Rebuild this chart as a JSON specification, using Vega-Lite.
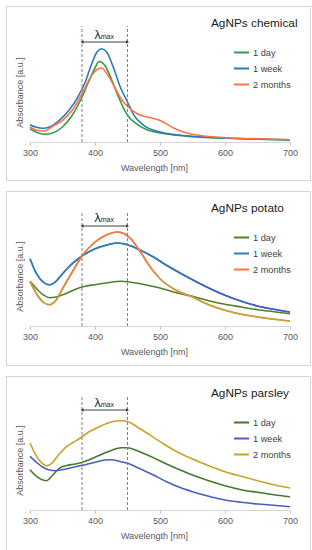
{
  "$schema": "https://vega.github.io/schema/vega-lite/v6.json",
  "padding": {"left": 5, "top": 5, "right": 3, "bottom": 5},
  "background": "white",
  "config": {
    "font": "Liberation Sans",
    "view": {"stroke": "#d4d4d4", "strokeWidth": 1},
    "concat": {"spacing": 9},
    "title": {"fontSize": 11.8, "fontWeight": "normal", "color": "#1a1a1a", "anchor": "start", "dx": 205, "offset": -24},
    "legend": {"orient": "none", "legendX": 227, "legendY": 38, "symbolType": "stroke", "symbolSize": 225, "symbolStrokeWidth": 2, "labelFontSize": 9.2, "labelColor": "#404040", "labelOffset": 3, "rowPadding": 2, "padding": 0}
  },
  "datasets": {
    "lambda": [{"from": 380, "to": 450, "mid": 415, "sym": "λ", "sub": "max"}],
    "chemical": [
      {"series": "1 day", "nm": 300, "abs": 0.133}, {"series": "1 day", "nm": 310, "abs": 0.097}, {"series": "1 day", "nm": 322, "abs": 0.077}, {"series": "1 day", "nm": 335, "abs": 0.09}, {"series": "1 day", "nm": 350, "abs": 0.15}, {"series": "1 day", "nm": 365, "abs": 0.267}, {"series": "1 day", "nm": 380, "abs": 0.45}, {"series": "1 day", "nm": 390, "abs": 0.6}, {"series": "1 day", "nm": 400, "abs": 0.74}, {"series": "1 day", "nm": 406, "abs": 0.805}, {"series": "1 day", "nm": 415, "abs": 0.767}, {"series": "1 day", "nm": 425, "abs": 0.633}, {"series": "1 day", "nm": 435, "abs": 0.467}, {"series": "1 day", "nm": 450, "abs": 0.267}, {"series": "1 day", "nm": 465, "abs": 0.177}, {"series": "1 day", "nm": 480, "abs": 0.123}, {"series": "1 day", "nm": 500, "abs": 0.09}, {"series": "1 day", "nm": 525, "abs": 0.067}, {"series": "1 day", "nm": 550, "abs": 0.053}, {"series": "1 day", "nm": 600, "abs": 0.037}, {"series": "1 day", "nm": 650, "abs": 0.027}, {"series": "1 day", "nm": 700, "abs": 0.017},
      {"series": "1 week", "nm": 300, "abs": 0.173}, {"series": "1 week", "nm": 310, "abs": 0.147}, {"series": "1 week", "nm": 320, "abs": 0.137}, {"series": "1 week", "nm": 330, "abs": 0.15}, {"series": "1 week", "nm": 345, "abs": 0.217}, {"series": "1 week", "nm": 360, "abs": 0.317}, {"series": "1 week", "nm": 375, "abs": 0.467}, {"series": "1 week", "nm": 385, "abs": 0.6}, {"series": "1 week", "nm": 395, "abs": 0.783}, {"series": "1 week", "nm": 403, "abs": 0.9}, {"series": "1 week", "nm": 410, "abs": 0.933}, {"series": "1 week", "nm": 418, "abs": 0.9}, {"series": "1 week", "nm": 428, "abs": 0.75}, {"series": "1 week", "nm": 440, "abs": 0.533}, {"series": "1 week", "nm": 450, "abs": 0.4}, {"series": "1 week", "nm": 460, "abs": 0.267}, {"series": "1 week", "nm": 475, "abs": 0.167}, {"series": "1 week", "nm": 500, "abs": 0.1}, {"series": "1 week", "nm": 525, "abs": 0.073}, {"series": "1 week", "nm": 550, "abs": 0.057}, {"series": "1 week", "nm": 600, "abs": 0.04}, {"series": "1 week", "nm": 650, "abs": 0.03}, {"series": "1 week", "nm": 700, "abs": 0.023},
      {"series": "2 months", "nm": 300, "abs": 0.15}, {"series": "2 months", "nm": 310, "abs": 0.117}, {"series": "2 months", "nm": 322, "abs": 0.11}, {"series": "2 months", "nm": 335, "abs": 0.157}, {"series": "2 months", "nm": 350, "abs": 0.217}, {"series": "2 months", "nm": 365, "abs": 0.317}, {"series": "2 months", "nm": 380, "abs": 0.483}, {"series": "2 months", "nm": 395, "abs": 0.667}, {"series": "2 months", "nm": 405, "abs": 0.733}, {"series": "2 months", "nm": 410, "abs": 0.74}, {"series": "2 months", "nm": 420, "abs": 0.667}, {"series": "2 months", "nm": 430, "abs": 0.55}, {"series": "2 months", "nm": 440, "abs": 0.433}, {"series": "2 months", "nm": 450, "abs": 0.357}, {"series": "2 months", "nm": 465, "abs": 0.283}, {"series": "2 months", "nm": 480, "abs": 0.25}, {"series": "2 months", "nm": 495, "abs": 0.227}, {"series": "2 months", "nm": 505, "abs": 0.2}, {"series": "2 months", "nm": 520, "abs": 0.143}, {"series": "2 months", "nm": 540, "abs": 0.093}, {"series": "2 months", "nm": 560, "abs": 0.067}, {"series": "2 months", "nm": 600, "abs": 0.043}, {"series": "2 months", "nm": 650, "abs": 0.033}, {"series": "2 months", "nm": 700, "abs": 0.023}
    ],
    "potato": [
      {"series": "1 day", "nm": 300, "abs": 0.447}, {"series": "1 day", "nm": 310, "abs": 0.373}, {"series": "1 day", "nm": 320, "abs": 0.313}, {"series": "1 day", "nm": 330, "abs": 0.283}, {"series": "1 day", "nm": 340, "abs": 0.29}, {"series": "1 day", "nm": 355, "abs": 0.323}, {"series": "1 day", "nm": 370, "abs": 0.367}, {"series": "1 day", "nm": 385, "abs": 0.397}, {"series": "1 day", "nm": 400, "abs": 0.413}, {"series": "1 day", "nm": 420, "abs": 0.433}, {"series": "1 day", "nm": 440, "abs": 0.447}, {"series": "1 day", "nm": 450, "abs": 0.443}, {"series": "1 day", "nm": 470, "abs": 0.423}, {"series": "1 day", "nm": 500, "abs": 0.38}, {"series": "1 day", "nm": 525, "abs": 0.333}, {"series": "1 day", "nm": 550, "abs": 0.297}, {"series": "1 day", "nm": 575, "abs": 0.253}, {"series": "1 day", "nm": 600, "abs": 0.217}, {"series": "1 day", "nm": 625, "abs": 0.19}, {"series": "1 day", "nm": 650, "abs": 0.163}, {"series": "1 day", "nm": 675, "abs": 0.143}, {"series": "1 day", "nm": 700, "abs": 0.123},
      {"series": "1 week", "nm": 300, "abs": 0.673}, {"series": "1 week", "nm": 310, "abs": 0.523}, {"series": "1 week", "nm": 320, "abs": 0.44}, {"series": "1 week", "nm": 330, "abs": 0.413}, {"series": "1 week", "nm": 340, "abs": 0.447}, {"series": "1 week", "nm": 350, "abs": 0.523}, {"series": "1 week", "nm": 365, "abs": 0.623}, {"series": "1 week", "nm": 380, "abs": 0.7}, {"series": "1 week", "nm": 400, "abs": 0.773}, {"series": "1 week", "nm": 420, "abs": 0.813}, {"series": "1 week", "nm": 435, "abs": 0.83}, {"series": "1 week", "nm": 450, "abs": 0.813}, {"series": "1 week", "nm": 470, "abs": 0.757}, {"series": "1 week", "nm": 490, "abs": 0.69}, {"series": "1 week", "nm": 510, "abs": 0.607}, {"series": "1 week", "nm": 530, "abs": 0.533}, {"series": "1 week", "nm": 550, "abs": 0.463}, {"series": "1 week", "nm": 575, "abs": 0.38}, {"series": "1 week", "nm": 600, "abs": 0.307}, {"series": "1 week", "nm": 625, "abs": 0.247}, {"series": "1 week", "nm": 650, "abs": 0.2}, {"series": "1 week", "nm": 675, "abs": 0.167}, {"series": "1 week", "nm": 700, "abs": 0.14},
      {"series": "2 months", "nm": 300, "abs": 0.447}, {"series": "2 months", "nm": 310, "abs": 0.323}, {"series": "2 months", "nm": 320, "abs": 0.24}, {"series": "2 months", "nm": 330, "abs": 0.213}, {"series": "2 months", "nm": 340, "abs": 0.257}, {"series": "2 months", "nm": 350, "abs": 0.373}, {"series": "2 months", "nm": 365, "abs": 0.54}, {"series": "2 months", "nm": 380, "abs": 0.7}, {"series": "2 months", "nm": 400, "abs": 0.84}, {"series": "2 months", "nm": 420, "abs": 0.917}, {"series": "2 months", "nm": 435, "abs": 0.94}, {"series": "2 months", "nm": 445, "abs": 0.923}, {"series": "2 months", "nm": 455, "abs": 0.873}, {"series": "2 months", "nm": 470, "abs": 0.74}, {"series": "2 months", "nm": 485, "abs": 0.59}, {"series": "2 months", "nm": 500, "abs": 0.473}, {"series": "2 months", "nm": 525, "abs": 0.357}, {"series": "2 months", "nm": 550, "abs": 0.29}, {"series": "2 months", "nm": 575, "abs": 0.213}, {"series": "2 months", "nm": 600, "abs": 0.157}, {"series": "2 months", "nm": 625, "abs": 0.117}, {"series": "2 months", "nm": 650, "abs": 0.09}, {"series": "2 months", "nm": 675, "abs": 0.067}, {"series": "2 months", "nm": 700, "abs": 0.05}
    ],
    "parsley": [
      {"series": "1 day", "nm": 300, "abs": 0.403}, {"series": "1 day", "nm": 310, "abs": 0.337}, {"series": "1 day", "nm": 320, "abs": 0.3}, {"series": "1 day", "nm": 325, "abs": 0.293}, {"series": "1 day", "nm": 335, "abs": 0.35}, {"series": "1 day", "nm": 345, "abs": 0.417}, {"series": "1 day", "nm": 355, "abs": 0.443}, {"series": "1 day", "nm": 370, "abs": 0.46}, {"series": "1 day", "nm": 385, "abs": 0.487}, {"series": "1 day", "nm": 400, "abs": 0.527}, {"series": "1 day", "nm": 420, "abs": 0.583}, {"series": "1 day", "nm": 440, "abs": 0.623}, {"series": "1 day", "nm": 450, "abs": 0.623}, {"series": "1 day", "nm": 465, "abs": 0.593}, {"series": "1 day", "nm": 485, "abs": 0.537}, {"series": "1 day", "nm": 510, "abs": 0.46}, {"series": "1 day", "nm": 530, "abs": 0.403}, {"series": "1 day", "nm": 550, "abs": 0.35}, {"series": "1 day", "nm": 575, "abs": 0.293}, {"series": "1 day", "nm": 600, "abs": 0.243}, {"series": "1 day", "nm": 625, "abs": 0.203}, {"series": "1 day", "nm": 650, "abs": 0.177}, {"series": "1 day", "nm": 675, "abs": 0.153}, {"series": "1 day", "nm": 700, "abs": 0.133},
      {"series": "1 week", "nm": 300, "abs": 0.537}, {"series": "1 week", "nm": 310, "abs": 0.477}, {"series": "1 week", "nm": 320, "abs": 0.427}, {"series": "1 week", "nm": 330, "abs": 0.4}, {"series": "1 week", "nm": 340, "abs": 0.393}, {"series": "1 week", "nm": 355, "abs": 0.41}, {"series": "1 week", "nm": 370, "abs": 0.433}, {"series": "1 week", "nm": 385, "abs": 0.453}, {"series": "1 week", "nm": 400, "abs": 0.477}, {"series": "1 week", "nm": 415, "abs": 0.5}, {"series": "1 week", "nm": 425, "abs": 0.503}, {"series": "1 week", "nm": 440, "abs": 0.483}, {"series": "1 week", "nm": 450, "abs": 0.467}, {"series": "1 week", "nm": 470, "abs": 0.41}, {"series": "1 week", "nm": 490, "abs": 0.35}, {"series": "1 week", "nm": 510, "abs": 0.283}, {"series": "1 week", "nm": 530, "abs": 0.227}, {"series": "1 week", "nm": 550, "abs": 0.183}, {"series": "1 week", "nm": 575, "abs": 0.137}, {"series": "1 week", "nm": 600, "abs": 0.1}, {"series": "1 week", "nm": 625, "abs": 0.077}, {"series": "1 week", "nm": 650, "abs": 0.06}, {"series": "1 week", "nm": 675, "abs": 0.047}, {"series": "1 week", "nm": 700, "abs": 0.033},
      {"series": "2 months", "nm": 300, "abs": 0.67}, {"series": "2 months", "nm": 310, "abs": 0.537}, {"series": "2 months", "nm": 320, "abs": 0.46}, {"series": "2 months", "nm": 325, "abs": 0.443}, {"series": "2 months", "nm": 335, "abs": 0.477}, {"series": "2 months", "nm": 345, "abs": 0.56}, {"series": "2 months", "nm": 355, "abs": 0.627}, {"series": "2 months", "nm": 365, "abs": 0.67}, {"series": "2 months", "nm": 375, "abs": 0.71}, {"series": "2 months", "nm": 390, "abs": 0.777}, {"series": "2 months", "nm": 405, "abs": 0.827}, {"series": "2 months", "nm": 420, "abs": 0.87}, {"series": "2 months", "nm": 435, "abs": 0.893}, {"series": "2 months", "nm": 445, "abs": 0.893}, {"series": "2 months", "nm": 455, "abs": 0.87}, {"series": "2 months", "nm": 470, "abs": 0.81}, {"series": "2 months", "nm": 490, "abs": 0.727}, {"series": "2 months", "nm": 510, "abs": 0.643}, {"series": "2 months", "nm": 530, "abs": 0.57}, {"series": "2 months", "nm": 550, "abs": 0.51}, {"series": "2 months", "nm": 575, "abs": 0.443}, {"series": "2 months", "nm": 600, "abs": 0.383}, {"series": "2 months", "nm": 625, "abs": 0.337}, {"series": "2 months", "nm": 650, "abs": 0.293}, {"series": "2 months", "nm": 675, "abs": 0.253}, {"series": "2 months", "nm": 700, "abs": 0.22}
    ]
  },
  "resolve": {"scale": {"x": "independent", "y": "independent", "color": "independent"}, "legend": {"color": "independent"}},
  "vconcat": [
    {
      "width": 304, "height": 174,
      "title": {"text": "AgNPs chemical"},
      "layer": [
        {"data": {"name": "chemical"}, "mark": {"type": "line", "interpolate": "monotone", "strokeWidth": 1.6},
         "encoding": {
           "x": {"field": "nm", "type": "quantitative", "scale": {"domain": [300, 700], "range": [24, 284], "nice": false, "zero": false},
                 "axis": {"values": [300, 350, 400, 450, 500, 550, 600, 650, 700], "offset": -38, "grid": false, "domainColor": "#d4d4d4", "tickColor": "#bfbfbf", "tickSize": 3, "labelFontSize": 9, "labelColor": "#595959", "labelPadding": 3, "labelFlush": false, "title": "Wavelength [nm]", "titleFontSize": 9, "titleFontWeight": "normal", "titleColor": "#595959", "titlePadding": 6, "titleX": 148}},
           "y": {"field": "abs", "type": "quantitative", "scale": {"domain": [0, 1], "range": [136, 36], "nice": false, "zero": false},
                 "axis": {"offset": -24, "domain": false, "ticks": false, "labels": false, "grid": false, "title": "Absorbance [a.u.]", "titleFontSize": 9, "titleFontWeight": "normal", "titleColor": "#595959", "titlePadding": 6}},
           "color": {"field": "series", "type": "nominal", "scale": {"domain": ["1 day", "1 week", "2 months"], "range": ["#35984a", "#2a7ab9", "#fa7440"]}, "legend": {"title": null}}
         }},
        {"data": {"name": "lambda"}, "mark": {"type": "rule", "strokeDash": [3, 2], "color": "#808080", "strokeWidth": 1}, "encoding": {"x": {"field": "from", "type": "quantitative"}, "y": {"datum": 0}, "y2": {"datum": 1.16}}},
        {"data": {"name": "lambda"}, "mark": {"type": "rule", "strokeDash": [3, 2], "color": "#808080", "strokeWidth": 1}, "encoding": {"x": {"field": "to", "type": "quantitative"}, "y": {"datum": 0}, "y2": {"datum": 1.16}}},
        {"data": {"name": "lambda"}, "mark": {"type": "rule", "color": "#404040", "strokeWidth": 1}, "encoding": {"x": {"field": "from", "type": "quantitative"}, "x2": {"field": "to"}, "y": {"datum": 1.0}}},
        {"data": {"name": "lambda"}, "mark": {"type": "point", "shape": "triangle-left", "filled": true, "size": 12, "color": "#404040", "opacity": 1}, "encoding": {"x": {"field": "from", "type": "quantitative"}, "y": {"datum": 1.0}}},
        {"data": {"name": "lambda"}, "mark": {"type": "point", "shape": "triangle-right", "filled": true, "size": 12, "color": "#404040", "opacity": 1}, "encoding": {"x": {"field": "to", "type": "quantitative"}, "y": {"datum": 1.0}}},
        {"data": {"name": "lambda"}, "mark": {"type": "text", "align": "right", "baseline": "alphabetic", "fontSize": 12.5, "dx": -4, "color": "#1a1a1a"}, "encoding": {"x": {"field": "mid", "type": "quantitative"}, "y": {"datum": 1.03}, "text": {"field": "sym"}}},
        {"data": {"name": "lambda"}, "mark": {"type": "text", "align": "left", "baseline": "alphabetic", "fontSize": 7, "dx": -4, "color": "#1a1a1a"}, "encoding": {"x": {"field": "mid", "type": "quantitative"}, "y": {"datum": 1.03}, "text": {"field": "sub"}}}
      ]
    },
    {
      "width": 304, "height": 174,
      "title": {"text": "AgNPs potato"},
      "layer": [
        {"data": {"name": "potato"}, "mark": {"type": "line", "interpolate": "monotone", "strokeWidth": 1.6},
         "encoding": {
           "x": {"field": "nm", "type": "quantitative", "scale": {"domain": [300, 700], "range": [24, 284], "nice": false, "zero": false},
                 "axis": {"values": [300, 350, 400, 450, 500, 550, 600, 650, 700], "offset": -39, "grid": false, "domainColor": "#d4d4d4", "tickColor": "#bfbfbf", "tickSize": 3, "labelFontSize": 9, "labelColor": "#595959", "labelPadding": 3, "labelFlush": false, "title": "Wavelength [nm]", "titleFontSize": 9, "titleFontWeight": "normal", "titleColor": "#595959", "titlePadding": 6, "titleX": 148}},
           "y": {"field": "abs", "type": "quantitative", "scale": {"domain": [0, 1], "range": [135, 35], "nice": false, "zero": false},
                 "axis": {"offset": -24, "domain": false, "ticks": false, "labels": false, "grid": false, "title": "Absorbance [a.u.]", "titleFontSize": 9, "titleFontWeight": "normal", "titleColor": "#595959", "titlePadding": 6}},
           "color": {"field": "series", "type": "nominal", "scale": {"domain": ["1 day", "1 week", "2 months"], "range": ["#4f7f2e", "#2f7bbb", "#f77a3c"]}, "legend": {"title": null}}
         }},
        {"data": {"name": "potato"}, "transform": [{"filter": {"field": "series", "equal": "1 week"}}],
         "mark": {"type": "line", "interpolate": "monotone", "strokeWidth": 1.6,
                  "stroke": {"gradient": "linear", "x1": 0, "y1": 0, "x2": 1, "y2": 0, "stops": [{"offset": 0, "color": "#2f7bbb"}, {"offset": 0.5, "color": "#2f7bbb"}, {"offset": 0.72, "color": "#4760c2"}, {"offset": 1, "color": "#4b5cc4"}]}},
         "encoding": {"x": {"field": "nm", "type": "quantitative"}, "y": {"field": "abs", "type": "quantitative"}}},
        {"data": {"name": "potato"}, "transform": [{"filter": {"field": "series", "equal": "2 months"}}],
         "mark": {"type": "line", "interpolate": "monotone", "strokeWidth": 1.6,
                  "stroke": {"gradient": "linear", "x1": 0, "y1": 0, "x2": 1, "y2": 0, "stops": [{"offset": 0, "color": "#b8a238"}, {"offset": 0.1, "color": "#bfa036"}, {"offset": 0.17, "color": "#f77a3c"}, {"offset": 0.43, "color": "#f77a3c"}, {"offset": 0.5, "color": "#c6a03a"}, {"offset": 1, "color": "#c2a236"}]}},
         "encoding": {"x": {"field": "nm", "type": "quantitative"}, "y": {"field": "abs", "type": "quantitative"}}},
        {"data": {"name": "lambda"}, "mark": {"type": "rule", "strokeDash": [3, 2], "color": "#808080", "strokeWidth": 1}, "encoding": {"x": {"field": "from", "type": "quantitative"}, "y": {"datum": 0}, "y2": {"datum": 1.14}}},
        {"data": {"name": "lambda"}, "mark": {"type": "rule", "strokeDash": [3, 2], "color": "#808080", "strokeWidth": 1}, "encoding": {"x": {"field": "to", "type": "quantitative"}, "y": {"datum": 0}, "y2": {"datum": 1.14}}},
        {"data": {"name": "lambda"}, "mark": {"type": "rule", "color": "#404040", "strokeWidth": 1}, "encoding": {"x": {"field": "from", "type": "quantitative"}, "x2": {"field": "to"}, "y": {"datum": 1.0}}},
        {"data": {"name": "lambda"}, "mark": {"type": "point", "shape": "triangle-left", "filled": true, "size": 12, "color": "#404040", "opacity": 1}, "encoding": {"x": {"field": "from", "type": "quantitative"}, "y": {"datum": 1.0}}},
        {"data": {"name": "lambda"}, "mark": {"type": "point", "shape": "triangle-right", "filled": true, "size": 12, "color": "#404040", "opacity": 1}, "encoding": {"x": {"field": "to", "type": "quantitative"}, "y": {"datum": 1.0}}},
        {"data": {"name": "lambda"}, "mark": {"type": "text", "align": "right", "baseline": "alphabetic", "fontSize": 12.5, "dx": -4, "color": "#1a1a1a"}, "encoding": {"x": {"field": "mid", "type": "quantitative"}, "y": {"datum": 1.04}, "text": {"field": "sym"}}},
        {"data": {"name": "lambda"}, "mark": {"type": "text", "align": "left", "baseline": "alphabetic", "fontSize": 7, "dx": -4, "color": "#1a1a1a"}, "encoding": {"x": {"field": "mid", "type": "quantitative"}, "y": {"datum": 1.04}, "text": {"field": "sub"}}}
      ]
    },
    {
      "width": 304, "height": 174,
      "title": {"text": "AgNPs parsley"},
      "layer": [
        {"data": {"name": "parsley"}, "mark": {"type": "line", "interpolate": "monotone", "strokeWidth": 1.6},
         "encoding": {
           "x": {"field": "nm", "type": "quantitative", "scale": {"domain": [300, 700], "range": [24, 284], "nice": false, "zero": false},
                 "axis": {"values": [300, 350, 400, 450, 500, 550, 600, 650, 700], "offset": -40, "grid": false, "domainColor": "#d4d4d4", "tickColor": "#bfbfbf", "tickSize": 3, "labelFontSize": 9, "labelColor": "#595959", "labelPadding": 3, "labelFlush": false, "title": "Wavelength [nm]", "titleFontSize": 9, "titleFontWeight": "normal", "titleColor": "#595959", "titlePadding": 6, "titleX": 148}},
           "y": {"field": "abs", "type": "quantitative", "scale": {"domain": [0, 1], "range": [134, 34], "nice": false, "zero": false},
                 "axis": {"offset": -24, "domain": false, "ticks": false, "labels": false, "grid": false, "title": "Absorbance [a.u.]", "titleFontSize": 9, "titleFontWeight": "normal", "titleColor": "#595959", "titlePadding": 6}},
           "color": {"field": "series", "type": "nominal", "scale": {"domain": ["1 day", "1 week", "2 months"], "range": ["#437a2c", "#4a5ec4", "#c9a22a"]}, "legend": {"title": null}}
         }},
        {"data": {"name": "lambda"}, "mark": {"type": "rule", "strokeDash": [3, 2], "color": "#808080", "strokeWidth": 1}, "encoding": {"x": {"field": "from", "type": "quantitative"}, "y": {"datum": 0}, "y2": {"datum": 1.15}}},
        {"data": {"name": "lambda"}, "mark": {"type": "rule", "strokeDash": [3, 2], "color": "#808080", "strokeWidth": 1}, "encoding": {"x": {"field": "to", "type": "quantitative"}, "y": {"datum": 0}, "y2": {"datum": 1.15}}},
        {"data": {"name": "lambda"}, "mark": {"type": "rule", "color": "#404040", "strokeWidth": 1}, "encoding": {"x": {"field": "from", "type": "quantitative"}, "x2": {"field": "to"}, "y": {"datum": 1.0}}},
        {"data": {"name": "lambda"}, "mark": {"type": "point", "shape": "triangle-left", "filled": true, "size": 12, "color": "#404040", "opacity": 1}, "encoding": {"x": {"field": "from", "type": "quantitative"}, "y": {"datum": 1.0}}},
        {"data": {"name": "lambda"}, "mark": {"type": "point", "shape": "triangle-right", "filled": true, "size": 12, "color": "#404040", "opacity": 1}, "encoding": {"x": {"field": "to", "type": "quantitative"}, "y": {"datum": 1.0}}},
        {"data": {"name": "lambda"}, "mark": {"type": "text", "align": "right", "baseline": "alphabetic", "fontSize": 12.5, "dx": -4, "color": "#1a1a1a"}, "encoding": {"x": {"field": "mid", "type": "quantitative"}, "y": {"datum": 1.03}, "text": {"field": "sym"}}},
        {"data": {"name": "lambda"}, "mark": {"type": "text", "align": "left", "baseline": "alphabetic", "fontSize": 7, "dx": -4, "color": "#1a1a1a"}, "encoding": {"x": {"field": "mid", "type": "quantitative"}, "y": {"datum": 1.03}, "text": {"field": "sub"}}}
      ]
    }
  ]
}
